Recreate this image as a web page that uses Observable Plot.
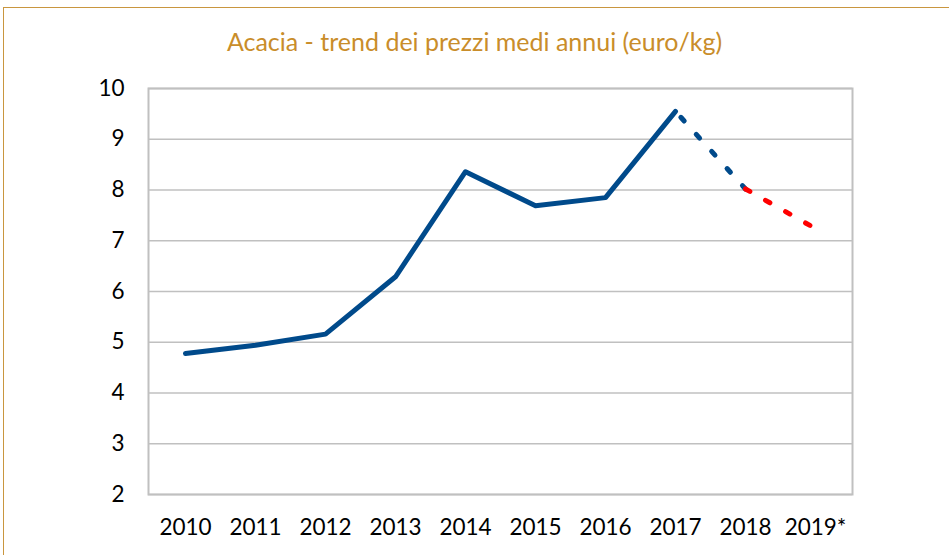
<!DOCTYPE html>
<html><head><meta charset="utf-8">
<script src="https://cdn.jsdelivr.net/npm/d3@7"></script>
<script src="https://cdn.jsdelivr.net/npm/@observablehq/plot@0.6"></script>
<style>
body{margin:0;background:#fff;}
#wrap{position:relative;width:949px;height:555px;overflow:hidden;background:#fff;}
#border{position:absolute;left:3px;top:7px;width:980px;height:620px;border:1.5px solid #c9963f;box-sizing:border-box;}
#title{position:absolute;top:26px;left:0;width:949px;text-align:center;font:25px Lato, "Open Sans", sans-serif;color:#c98d2a;}
#chart{position:absolute;left:0;top:0;}
</style></head>
<body>
<div id="wrap"><div id="border"></div><div id="title">Acacia - trend dei prezzi medi annui (euro/kg)</div><div id="chart"></div></div>
<script>
const years = ["2010","2011","2012","2013","2014","2015","2016","2017","2018","2019*"];
const prices = [4.78, 4.94, 5.16, 6.29, 8.36, 7.69, 7.85, 9.55, 8.02, 7.24];
const yTicks = [2,3,4,5,6,7,8,9,10];

const rows = years.map((y,i)=>({year:y, price:prices[i]}));
const actual = rows.slice(0,8);
const est1 = rows.slice(7,9);
const est2 = rows.slice(8,10);

const blue = "#004a8b", red = "#ff0000";
const chart = Plot.plot({
  width: 949, height: 555,
  marginLeft: 148, marginRight: 97, marginTop: 88, marginBottom: 61,
  style: {fontFamily: "Lato, 'Open Sans', sans-serif", fontSize: "22.5px", color: "#000", background: "transparent"},
  x: {type: "point", domain: years, padding: 0.5, label: null},
  y: {domain: [2,10], label: null},
  marks: [
    Plot.gridY(yTicks, {stroke: "#c0c0c0", strokeOpacity: 1, strokeWidth: 1.3}),
    Plot.frame({stroke: "#c0c0c0", strokeWidth: 2}),
    Plot.line(actual, {x:"year", y:"price", stroke: blue, strokeWidth: 5, strokeLinecap:"round", strokeLinejoin:"round"}),
    Plot.line(est1, {x:"year", y:"price", stroke: blue, strokeWidth: 5, strokeLinecap:"round", strokeDasharray:"5,18", strokeDashoffset: -8}),
    Plot.line(est2, {x:"year", y:"price", stroke: red, strokeWidth: 5, strokeLinecap:"round", strokeDasharray:"5,18"}),
    Plot.axisY(yTicks, {tickSize: 0, tickPadding: 24, fontSize: 22.5, tickFormat: "d", label: null}),
    Plot.axisX(years, {tickSize: 0, tickPadding: 25, fontSize: 22.5, label: null})
  ]
});
document.getElementById("chart").appendChild(chart);
</script>
</body></html>
